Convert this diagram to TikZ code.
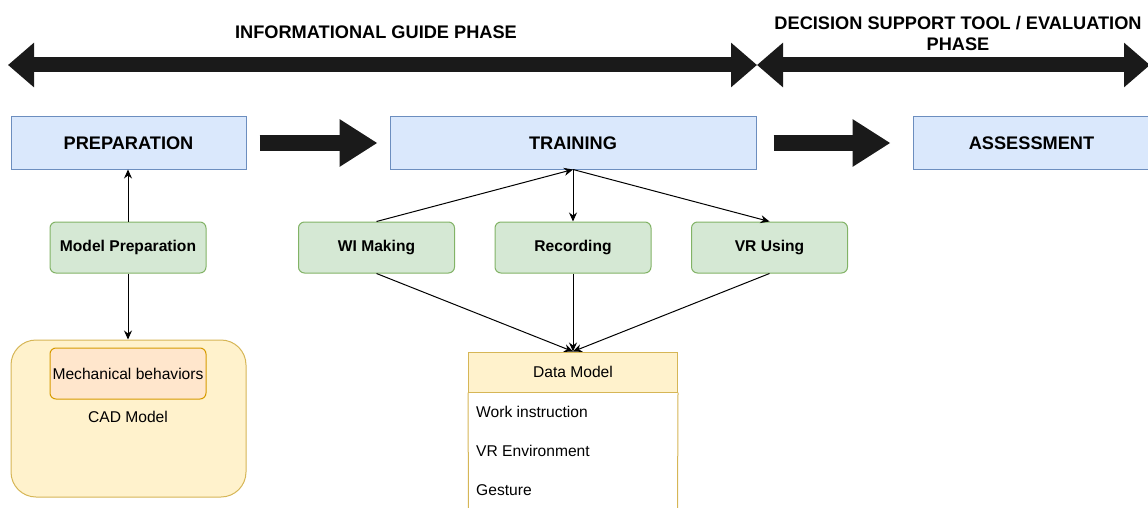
\documentclass[tikz,border=0pt]{standalone}
\usepackage{fontspec}
\setmainfont{Liberation Sans}
\usetikzlibrary{arrows.meta,positioning}

\definecolor{bluefill}{HTML}{DAE8FC}
\definecolor{blueline}{HTML}{6C8EBF}
\definecolor{greenfill}{HTML}{D5E8D4}
\definecolor{greenline}{HTML}{82B366}
\definecolor{yellowfill}{HTML}{FFF2CC}
\definecolor{yellowline}{HTML}{D6B656}
\definecolor{orangefill}{HTML}{FFE6CC}
\definecolor{orangeline}{HTML}{D79B00}
\definecolor{arrowblack}{HTML}{1A1A1A}

\begin{document}
\begin{tikzpicture}[x=1pt,y=-1pt,
  phasebox/.style={draw=blueline,fill=bluefill,line width=1pt,minimum height=52pt,
    inner sep=0pt,font=\fontsize{18.2}{21}\selectfont\bfseries},
  taskbox/.style={draw=greenline,fill=greenfill,line width=1pt,rounded corners=6pt,
    minimum width=156pt,minimum height=51pt,inner sep=0pt,
    font=\fontsize{15.6}{18}\selectfont\bfseries},
  plain/.style={font=\fontsize{15.6}{18}\selectfont,inner sep=0pt},
  link/.style={line width=1pt,-{Stealth[length=9pt,width=8pt]}},
  bigarrow/.style={arrowblack,line width=15pt,-{Triangle[length=38pt,width=45pt]}},
  phasearrow/.style={arrowblack,line width=15pt,
    {Triangle[length=26pt,width=43pt]}-{Triangle[length=26pt,width=43pt]}}]
\useasboundingbox (0,0) rectangle (1148,508);

% Phase arrows on top
\coordinate (g1l) at (8,65);
\coordinate (g1r) at (757,65);
\coordinate (g2l) at (757,65);
\coordinate (g2r) at (1150,65);
\draw[phasearrow] (g1l) -- (g1r);
\draw[phasearrow] (g2l) -- (g2r);
\node[font=\fontsize{18.2}{21}\selectfont\bfseries] (infophase) at (376,32) {INFORMATIONAL GUIDE PHASE};
\node[font=\fontsize{18.2}{21}\selectfont\bfseries,align=center,inner sep=0pt] (evalphase) at (958,33)
  {DECISION SUPPORT TOOL / EVALUATION\\PHASE};

% Main stages
\node[phasebox,minimum width=235pt] (prep) at (128.5,143) {PREPARATION};
\node[phasebox,minimum width=366pt] (train) at (573,143) {TRAINING};
\node[phasebox,minimum width=237pt] (assess) at (1031.5,143) {ASSESSMENT};

% Thick arrows between stages
\draw[bigarrow] ([xshift=13pt]prep.east) -- ([xshift=-12pt]train.west);
\draw[bigarrow] ([xshift=17pt]train.east) -- ([xshift=-22pt]assess.west);

% Sub tasks
\node[taskbox] (modelprep) at (128,247.5) {Model Preparation};
\node[taskbox] (wimake) at (376.5,247.5) {WI Making};
\node[taskbox] (rec) at (573,247.5) {Recording};
\node[taskbox] (vruse) at (769.5,247.5) {VR Using};

% CAD model container
\node[draw=yellowline,fill=yellowfill,line width=1pt,rounded corners=25pt,
  minimum width=235pt,minimum height=157pt] (cad) at (128.5,418.5) {};
\node[draw=orangeline,fill=orangefill,line width=1pt,rounded corners=6pt,
  minimum width=156pt,minimum height=51pt,plain] (mech) at (128,373.5) {Mechanical behaviors};
\node[plain] (cadlabel) at (128,417) {CAD Model};

% Data model list
\node[draw=yellowline,fill=yellowfill,line width=1pt,minimum width=209pt,
  minimum height=40pt,plain] (dm) at (573,372) {Data Model};
\coordinate (dmbl) at (468.5,515);
\coordinate (dmbr) at (677.5,515);
\draw[yellowline,line width=1pt] (dm.south west) -- (dmbl);
\draw[yellowline,line width=1pt] (dm.south east) -- (dmbr);
\node[plain,anchor=west] (dmwork) at (476,412) {Work instruction};
\node[plain,anchor=west] (dmvr) at (476,451) {VR Environment};
\node[plain,anchor=west] (dmgest) at (476,490) {Gesture};

% Thin connectors
\draw[link] (modelprep.north) -- (prep.south -| modelprep.north);
\draw[link] (modelprep.south) -- (cad.north -| modelprep.south);
\draw[link] (wimake.north) -- (train.south);
\draw[link] (train.south) -- (rec.north);
\draw[link] (train.south) -- (vruse.north);
\foreach \t in {wimake,rec,vruse} {
  \draw[link] (\t.south) -- (dm.north);
}
\end{tikzpicture}
\end{document}
